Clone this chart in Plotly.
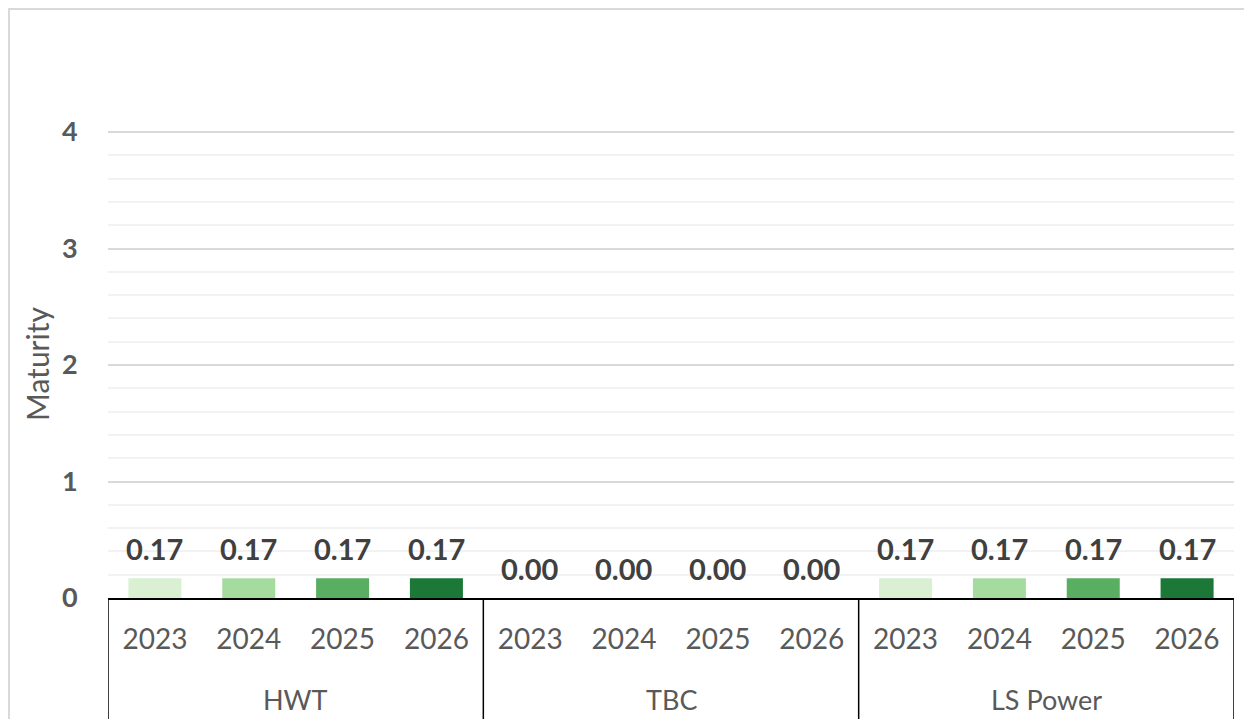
import plotly.graph_objects as go

groups = ["HWT", "TBC", "LS Power"]
years = ["2023", "2024", "2025", "2026"]
values = {
    "HWT": [0.17, 0.17, 0.17, 0.17],
    "TBC": [0.00, 0.00, 0.00, 0.00],
    "LS Power": [0.17, 0.17, 0.17, 0.17],
}
year_colors = ["#d9f0d3", "#a6dba0", "#5aae61", "#1b7837"]
y_ticks = [0, 1, 2, 3, 4]

FONT = "Lato"
GRAY = "#595959"
DARK = "#404040"

xs, ys, cols, labels = [], [], [], []
i = 0
for g in groups:
    for j, yr in enumerate(years):
        xs.append(i)
        ys.append(values[g][j])
        cols.append(year_colors[j])
        labels.append(yr)
        i += 1

fig = go.Figure()
fig.add_trace(go.Bar(
    x=xs, y=ys, marker=dict(color=cols, line=dict(width=0)),
    showlegend=False, hoverinfo="skip",
))

PLOT_H = 598 - 122 - 8  # plot height in px

annotations = []
for x, y in zip(xs, ys):
    annotations.append(dict(
        x=x, y=y, xref="x", yref="y", text=f"<b>{y:.2f}</b>",
        showarrow=False, yanchor="middle", yshift=30,
        font=dict(family=FONT, size=29, color=DARK),
    ))
n = len(years)
for k, g in enumerate(groups):
    annotations.append(dict(
        x=k * n + (n - 1) / 2, y=-101 / PLOT_H, xref="x", yref="paper", text=g,
        showarrow=False, yanchor="middle",
        font=dict(family=FONT, size=27, color=GRAY),
    ))
annotations.append(dict(
    x=0, y=(598 - 364) / PLOT_H, xref="paper", yref="paper", text="Maturity",
    textangle=-90, showarrow=False, xshift=-71, xanchor="center", yanchor="middle",
    font=dict(family=FONT, size=30, color=GRAY),
))

shapes = []
for k in range(len(groups) + 1):
    xb = k * n - 0.5
    shapes.append(dict(
        type="line", xref="x", yref="paper", x0=xb, x1=xb, y0=0, y1=-0.4,
        line=dict(color="#000000", width=1.5),
    ))
# outer chart border
shapes.append(dict(
    type="rect", xref="paper", yref="paper",
    x0=(9 - 108) / 1126, x1=1.2, y0=-0.6, y1=(598 - 9) / PLOT_H,
    line=dict(color="#d9d9d9", width=2), layer="below",
))

fig.update_layout(
    width=1244, height=711,
    margin=dict(l=100, r=18, t=122, b=121),
    paper_bgcolor="white", plot_bgcolor="white",
    bargap=0.435,
    annotations=annotations, shapes=shapes,
    font=dict(family=FONT, color=GRAY),
)
fig.update_xaxes(
    range=[-0.5, len(xs) - 0.5], tickmode="array", tickvals=xs, ticktext=labels,
    tickfont=dict(family=FONT, size=28, color=GRAY),
    ticks="outside", ticklen=16, tickcolor="rgba(0,0,0,0)",
    showgrid=False, zeroline=False,
    showline=True, linecolor="#000000", linewidth=1.5,
)
fig.update_yaxes(
    range=[0, PLOT_H / 116.5], tickmode="array", tickvals=y_ticks,
    ticktext=[f"<b>{t}</b>" for t in y_ticks],
    tickfont=dict(family=FONT, size=27, color=GRAY),
    ticks="outside", ticklen=24, tickcolor="rgba(0,0,0,0)",
    showgrid=True, gridcolor="#d9d9d9", gridwidth=1.5,
    minor=dict(tickvals=[k / 5 for k in range(1, 20) if k % 5], showgrid=True,
               gridcolor="#f2f2f2", gridwidth=1.5, ticks=""),
    zeroline=False, showline=False,
)

fig.write_html("out.html")
